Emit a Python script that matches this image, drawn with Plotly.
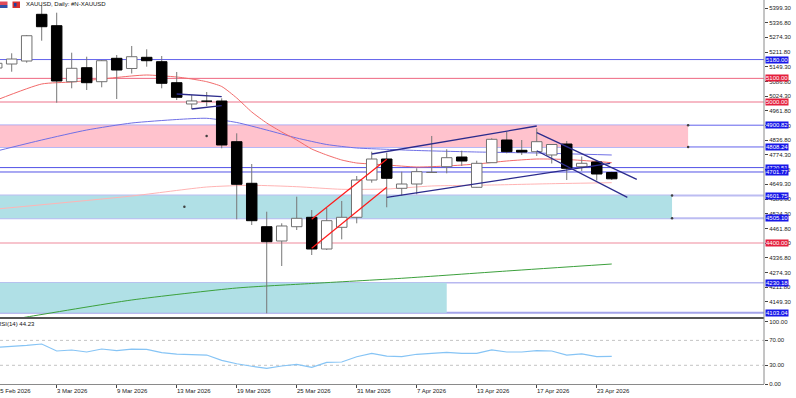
import plotly.graph_objects as go

# ---------------- data ----------------
dates = ["25 Feb", "26 Feb", "27 Feb", "2 Mar", "3 Mar", "4 Mar", "5 Mar", "6 Mar",
         "9 Mar", "10 Mar", "11 Mar", "12 Mar", "13 Mar", "16 Mar", "17 Mar", "18 Mar",
         "19 Mar", "20 Mar", "23 Mar", "24 Mar", "25 Mar", "26 Mar", "27 Mar", "30 Mar",
         "31 Mar", "1 Apr", "2 Apr", "6 Apr", "7 Apr", "8 Apr", "9 Apr", "10 Apr",
         "13 Apr", "14 Apr", "15 Apr", "16 Apr", "17 Apr", "20 Apr", "21 Apr", "22 Apr",
         "23 Apr", "24 Apr"]

open_ = [5144.1, 5161.1, 5173.8, 5372.5, 5324.0, 5085.8, 5145.4, 5085.8, 5185.3, 5142.0,
         5189.6, 5170.9, 5081.6, 4991.0, 5006.0, 5003.7, 4830.6, 4653.7, 4469.1, 4408.2,
         4469.1, 4509.0, 4374.2, 4466.5, 4509.0, 4667.7, 4757.0, 4632.4, 4650.7, 4700.0,
         4724.3, 4765.5, 4636.6, 4741.3, 4837.8, 4794.0, 4788.1, 4774.1, 4820.8, 4724.3,
         4744.3, 4699.6]
high = [5178.1, 5206.6, 5284.5, 5412.1, 5379.3, 5209.2, 5192.1, 5178.1, 5199.4, 5237.7,
        5223.6, 5195.1, 5127.1, 5029.0, 5042.0, 5015.2, 4866.3, 4735.7, 4532.9, 4483.5,
        4596.7, 4540.1, 4548.6, 4578.4, 4684.7, 4788.1, 4783.8, 4703.0, 4717.5, 4855.0,
        4798.4, 4792.3, 4749.8, 4845.1, 4873.1, 4837.8, 4887.6, 4819.5, 4833.6, 4767.6,
        4750.6, 4703.0]
low = [5135.6, 5128.3, 5166.6, 5260.2, 4996.5, 5057.7, 5050.5, 5062.0, 5012.2, 5120.7,
       5149.6, 5057.7, 5007.9, 4969.7, 4982.0, 4802.5, 4500.5, 4476.3, 4100.7, 4301.9,
       4455.0, 4348.7, 4370.0, 4415.4, 4483.5, 4656.2, 4551.6, 4600.9, 4606.9, 4698.7,
       4696.2, 4727.3, 4635.8, 4741.3, 4781.2, 4774.1, 4769.8, 4737.9, 4667.7, 4706.0,
       4665.6, 4667.7]
close = [5164.1, 5182.3, 5281.4, 5319.7, 5088.8, 5142.8, 5081.6, 5175.1, 5135.6, 5192.1,
         5175.1, 5079.0, 5019.5, 5004.0, 5003.0, 4816.6, 4649.4, 4494.6, 4405.3, 4472.1,
         4504.8, 4374.2, 4494.6, 4509.0, 4667.7, 4757.0, 4674.9, 4650.7, 4703.0, 4702.0,
         4762.6, 4748.5, 4738.7, 4840.8, 4788.1, 4786.8, 4830.6, 4818.7, 4717.5, 4738.7,
         4693.2, 4672.8]

# moving averages (bar index, price)
ma_red_idx = [0, 3, 5, 7, 9, 10, 12, 13, 14, 15, 16, 17, 18, 19, 20, 21, 22, 23, 24, 25,
              26, 28, 30, 32, 34, 36, 38, 40, 41]
ma_red = [5008.0, 5076.0, 5084.5, 5097.3, 5110.1, 5114.3, 5105.8, 5097.3, 5085.8, 5065.4,
          5016.5, 4957.1, 4910.1, 4871.9, 4837.8, 4799.5, 4774.0, 4752.8, 4740.0, 4735.8,
          4731.5, 4723.0, 4727.2, 4735.8, 4748.5, 4757.0, 4755.0, 4746.4, 4741.3]
ma_blue_idx = [0, 3, 6, 9, 12, 14, 16, 18, 20, 22, 24, 26, 28, 32, 36, 41]
ma_blue = [4791.0, 4837.8, 4880.3, 4910.1, 4925.0, 4930.1, 4912.3, 4880.3, 4846.3, 4818.7,
           4803.8, 4798.3, 4793.2, 4786.8, 4782.5, 4774.0]
ma_lred_idx = [0, 9, 14, 17, 20, 23, 26, 29, 33, 37, 41]
ma_lred = [4544.3, 4599.6, 4637.9, 4645.1, 4639.2, 4628.1, 4629.4, 4642.2, 4646.4, 4652.0,
           4656.2]
ma_green_idx = [1, 2, 9, 16, 21, 27, 34, 41]
ma_green = [4074.4, 4085.0, 4157.3, 4208.3, 4227.5, 4249.6, 4280.6, 4310.4]

rsi = [58.9, 59.9, 62.0, 64.2, 53.0, 54.6, 51.4, 56.2, 53.5, 56.0, 55.7, 50.5, 48.0, 47.0,
       46.5, 38.0, 32.5, 28.5, 25.2, 28.9, 31.6, 26.8, 34.8, 35.3, 43.8, 49.3, 44.9, 43.8,
       47.7, 49.3, 50.9, 49.3, 49.3, 54.6, 51.4, 51.4, 53.5, 53.0, 46.5, 48.2, 43.8, 44.23]
rsi_label = "RSI(14) 44.23"

# horizontal levels
hl_price = [5180.00, 5100.00, 5000.00, 4900.82, 4808.24, 4720.51, 4701.77, 4601.75,
            4505.10, 4400.00, 4230.18, 4103.04]
hl_kind = ["b", "r", "r", "b", "b", "b", "b", "b", "b", "r", "b", "b"]

# zones (bar index left/right, price top/bottom)
zone_x0 = [-18.1, -20.0, -40.0]
zone_x1 = [46.09, 45.02, 30.0]
zone_top = [4900.82, 4601.75, 4230.18]
zone_bot = [4808.24, 4505.10, 4103.04]

# trend lines (bar index, price) -> (bar index, price)
tl_navy = [(12, 5033.5, 15, 5022.0), (13, 4969.7, 15, 4983.7),
           (25.0, 4778.3, 36.0, 4897.4), (26.0, 4594.1, 40.9, 4738.0),
           (36.0, 4868.9, 42.67, 4670.7), (36.0, 4792.3, 42.04, 4594.1)]
tl_red = [(21.0, 4500.6, 26.0, 4755.7), (21.0, 4377.2, 26.0, 4636.7)]

price_ticks = [4149.30, 4211.80, 4274.30, 4336.80, 4399.30, 4461.80, 4524.30, 4586.80,
               4649.30, 4711.80, 4774.30, 4836.80, 4899.30, 4961.80, 5024.30, 5086.80,
               5149.30, 5211.80, 5274.30, 5336.80, 5399.30]
rsi_ticks = [0, 30, 70, 100]
rsi_tick_text = ["0.00", "30.00", "70.00", "100.00"]
date_tick_idx = [0, 4, 8, 12, 16, 20, 24, 28, 32, 36, 40]
date_tick_text = ["25 Feb 2026", "3 Mar 2026", "9 Mar 2026", "13 Mar 2026", "19 Mar 2026",
                  "25 Mar 2026", "31 Mar 2026", "7 Apr 2026", "13 Apr 2026", "17 Apr 2026",
                  "23 Apr 2026"]
title_text = "XAUUSD, Daily: #N-XAUUSD"

# ---------------- geometry / style ----------------
W, H = 796, 398
ML, MR, MT, MB = 0, 32, 0, 14
PW, PH = W - ML - MR, H - MT - MB
XR = [0.22, 51.15]
YR = [4082.84, 5433.33]
MAIN_DOM = [1 - 317.5 / PH, 1]
RSI_DOM = [0, 1 - 321.7 / PH]
FONT = "Liberation Sans, Arial, sans-serif"
BLUE_LBL = "#1717e8"
RED_LBL = "#e41f3d"


def pyp(pix):
    return 1 - pix / PH


def pxp(pix):
    return pix / PW


fig = go.Figure()

# moving averages
for idx, vals, col in [(ma_green_idx, ma_green, "#3ca03c"),
                       (ma_lred_idx, ma_lred, "#ffb4b4"),
                       (ma_blue_idx, ma_blue, "#6f6fe6"),
                       (ma_red_idx, ma_red, "#f26a6a")]:
    fig.add_trace(go.Scatter(x=idx, y=vals, mode="lines",
                             line=dict(color=col, width=1, shape="spline", smoothing=0.6),
                             hoverinfo="skip", showlegend=False, xaxis="x", yaxis="y"))

# candles
HW = 0.35
wk_x, wk_y, up_x, up_y, dn_x, dn_y = [], [], [], [], [], []
for i, (o, h, l, c) in enumerate(zip(open_, high, low, close)):
    wk_x += [i, i, None]
    wk_y += [l, h, None]
    top, bot = max(o, c), min(o, c)
    xs = [i - HW, i + HW, i + HW, i - HW, i - HW, None]
    ys = [bot, bot, top, top, bot, None]
    if c >= o:
        up_x += xs
        up_y += ys
    else:
        dn_x += xs
        dn_y += ys

fig.add_trace(go.Scatter(x=wk_x, y=wk_y, mode="lines", line=dict(color="#777777", width=1),
                         hoverinfo="skip", showlegend=False))
fig.add_trace(go.Scatter(x=up_x, y=up_y, mode="lines", fill="toself", fillcolor="white",
                         line=dict(color="#707070", width=1), hoverinfo="skip",
                         showlegend=False))
fig.add_trace(go.Scatter(x=dn_x, y=dn_y, mode="lines", fill="toself", fillcolor="black",
                         line=dict(color="black", width=1), hoverinfo="skip",
                         showlegend=False))

# trend lines
for segs, col, wd in [(tl_red, "#ff1a1a", 1.2), (tl_navy, "#2b2b8c", 1.3)]:
    xs, ys = [], []
    for x0, y0, x1, y1 in segs:
        xs += [x0, x1, None]
        ys += [y0, y1, None]
    fig.add_trace(go.Scatter(x=xs, y=ys, mode="lines", line=dict(color=col, width=wd),
                             hoverinfo="skip", showlegend=False))

# zone anchor points
dot_x, dot_y = [], []
for k in range(2):
    dot_x += [(zone_x0[k] + zone_x1[k]) / 2, zone_x1[k], zone_x1[k]]
    dot_y += [(zone_top[k] + zone_bot[k]) / 2, zone_top[k], zone_bot[k]]
fig.add_trace(go.Scatter(x=dot_x, y=dot_y, mode="markers",
                         marker=dict(color="#404040", size=2.5), hoverinfo="skip",
                         showlegend=False, cliponaxis=False))

# RSI
fig.add_trace(go.Scatter(x=list(range(len(rsi))), y=rsi, mode="lines",
                         line=dict(color="#86c4f5", width=1.2), hoverinfo="skip",
                         showlegend=False, xaxis="x2", yaxis="y2"))

shapes = []
zone_colors = ["#ffc2cd", "#b0e0e6", "#b0e0e6"]
for k in range(len(zone_x0)):
    shapes.append(dict(type="rect", xref="x", yref="y", x0=zone_x0[k], x1=zone_x1[k],
                       y0=zone_bot[k], y1=zone_top[k], fillcolor=zone_colors[k],
                       line=dict(width=0), layer="below"))

hl_style = {5180.00: ("#6262ec", 1), 5100.00: ("#ee6680", 1), 5000.00: ("#f6b9c5", 2),
            4900.82: ("#6262ec", 1), 4808.24: ("#6262ec", 1), 4720.51: ("#5252e6", 1),
            4701.77: ("#5252e6", 1), 4601.75: ("#bcbcf2", 2), 4505.10: ("#bcbcf2", 2),
            4400.00: ("#f4b0bd", 1.5), 4230.18: ("#b8b8f0", 1.5), 4103.04: ("#a4a4ea", 2)}
for p in hl_price:
    col, wd = hl_style[p]
    shapes.append(dict(type="line", xref="paper", yref="y", x0=0, x1=1, y0=p, y1=p,
                       line=dict(color=col, width=wd), layer="below"))

# RSI dotted levels
for lv in [30, 70]:
    shapes.append(dict(type="line", xref="paper", yref="y2", x0=0, x1=1, y0=lv, y1=lv,
                       line=dict(color="#c4c4c4", width=1, dash="dot"), layer="below"))

# pane separator, right axis line
shapes.append(dict(type="line", xref="paper", yref="paper", x0=0, x1=1,
                   y0=pyp(318), y1=pyp(318), line=dict(color="#555555", width=2)))
shapes.append(dict(type="line", xref="paper", yref="paper", x0=1, x1=1, y0=0, y1=1,
                   line=dict(color="#8a8a8a", width=1)))

# title icons
shapes += [
    dict(type="rect", xref="paper", yref="paper", x0=pxp(0), x1=pxp(7.5), y0=pyp(5),
         y1=pyp(1.5), fillcolor="#e04a5a", line=dict(width=0)),
    dict(type="rect", xref="paper", yref="paper", x0=pxp(0), x1=pxp(7.5), y0=pyp(8),
         y1=pyp(5), fillcolor="#3050a8", line=dict(width=0)),
    dict(type="rect", xref="paper", yref="paper", x0=pxp(12.5), x1=pxp(20), y0=pyp(8),
         y1=pyp(1.5), fillcolor="#d83030", line=dict(width=0)),
    dict(type="rect", xref="paper", yref="paper", x0=pxp(14), x1=pxp(16.5), y0=pyp(6.5),
         y1=pyp(3), fillcolor="#2040a0", line=dict(width=0)),
]

annotations = []
for p, kd in zip(hl_price, hl_kind):
    annotations.append(dict(xref="paper", yref="y", x=1, y=p, xanchor="left", xshift=1,
                            text=f"{p:.2f}", showarrow=False, borderpad=0,
                            bgcolor=BLUE_LBL if kd == "b" else RED_LBL,
                            font=dict(family=FONT, size=6, color="white")))

for i, t in zip(date_tick_idx, date_tick_text):
    annotations.append(dict(xref="paper", yref="paper",
                            x=(i - XR[0]) / (XR[1] - XR[0]), y=0, xanchor="left",
                            yanchor="top", xshift=-0.6, yshift=-3, text=t, showarrow=False,
                            borderpad=0, font=dict(family=FONT, size=6, color="#222222")))

annotations.append(dict(xref="paper", yref="paper", x=pxp(25), y=1, xanchor="left",
                        yanchor="top", yshift=0, text=title_text, showarrow=False,
                        borderpad=0, font=dict(family=FONT, size=6, color="#111111")))
annotations.append(dict(xref="paper", yref="paper", x=pxp(-4.2), y=pyp(319.5),
                        xanchor="left", yanchor="top", text=rsi_label, showarrow=False,
                        borderpad=0, font=dict(family=FONT, size=6, color="#111111")))

axis_common = dict(showgrid=False, zeroline=False, automargin=False)
fig.update_layout(
    width=W, height=H,
    margin=dict(l=ML, r=MR, t=MT, b=MB, pad=0),
    paper_bgcolor="white", plot_bgcolor="white",
    showlegend=False,
    xaxis=dict(domain=[0, 1], range=XR, anchor="y", showticklabels=False, ticks="",
               showline=False, **axis_common),
    yaxis=dict(domain=MAIN_DOM, range=YR, anchor="x", side="right", tickmode="array",
               tickvals=price_ticks, tickformat=".2f", ticks="outside", ticklen=3,
               tickcolor="#444444", showline=False,
               tickfont=dict(family=FONT, size=6, color="#222222"), **axis_common),
    xaxis2=dict(domain=[0, 1], range=XR, anchor="y2", matches="x", tickmode="array",
                tickvals=date_tick_idx, ticks="outside", ticklen=3, tickcolor="#444444",
                showticklabels=False, showline=True, linecolor="#8a8a8a", linewidth=1,
                **axis_common),
    yaxis2=dict(domain=RSI_DOM, range=[0, 100], anchor="x2", side="right",
                tickmode="array", tickvals=rsi_ticks, ticktext=rsi_tick_text,
                ticks="outside", ticklen=3, tickcolor="#444444", showline=False,
                tickfont=dict(family=FONT, size=6, color="#222222"), **axis_common),
    shapes=shapes,
    annotations=annotations,
    hovermode=False,
)

fig.write_html("out.html", config=dict(displayModeBar=False, staticPlot=True),
               post_script="document.body.style.margin='0';document.body.style.padding='0';"
                           "document.documentElement.style.overflow='hidden';")
